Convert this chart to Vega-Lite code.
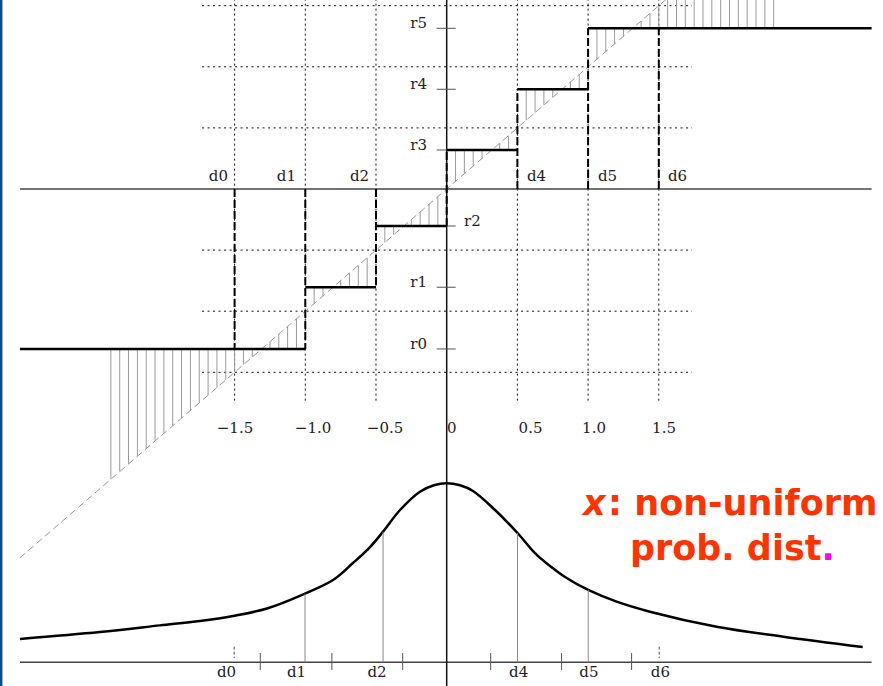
{
  "$schema": "https://vega.github.io/schema/vega-lite/v6.json",
  "width": 883,
  "height": 686,
  "padding": 0,
  "autosize": {"type": "fit", "contains": "padding"},
  "background": "white",
  "config": {"view": {"stroke": null}},
  "encoding": {
    "x": {"field": "x", "type": "quantitative", "scale": {"domain": [-3.1591, 3.0856], "nice": false, "zero": false}, "axis": null},
    "y": {"field": "y", "type": "quantitative", "scale": {"domain": [-4.0671, 1.5466], "nice": false, "zero": false}, "axis": null}
  },
  "layer": [
    {
      "data": {"values": [{"x": -3.3, "x2": -3.142, "y": -4.3, "y2": 1.7}]},
      "mark": {"type": "rect", "color": "#0d4a96", "clip": true},
      "encoding": {"x2": {"field": "x2"}, "y2": {"field": "y2"}}
    },
    {
      "data": {"values": [
        {"x": -1.5, "y": -1.732, "y2": 1.7},
        {"x": -1.0, "y": -1.732, "y2": 1.7},
        {"x": -0.5, "y": -1.732, "y2": 1.7},
        {"x": 0.5, "y": -1.732, "y2": 1.7},
        {"x": 1.0, "y": -1.732, "y2": 1.7},
        {"x": 1.5, "y": -1.732, "y2": 1.7}
      ]},
      "mark": {"type": "rule", "color": "#111", "strokeWidth": 1, "strokeDash": [2, 3], "clip": true},
      "encoding": {"y2": {"field": "y2"}}
    },
    {
      "data": {"values": [
        {"y": -1.5, "x": -1.73, "x2": 1.735},
        {"y": -1.0, "x": -1.73, "x2": 1.735},
        {"y": -0.5, "x": -1.73, "x2": 1.735},
        {"y": 0.5, "x": -1.73, "x2": 1.735},
        {"y": 1.0, "x": -1.73, "x2": 1.735},
        {"y": 1.5, "x": -1.73, "x2": 1.735}
      ]},
      "mark": {"type": "rule", "color": "#111", "strokeWidth": 1, "strokeDash": [2, 3.5], "clip": true},
      "encoding": {"x2": {"field": "x2"}}
    },
    {
      "data": {"values": [
        {"x": -2.375, "y": -1.309}, {"x": -2.3125, "y": -1.309}, {"x": -2.25, "y": -1.309}, {"x": -2.1875, "y": -1.309},
        {"x": -2.125, "y": -1.309}, {"x": -2.0625, "y": -1.309}, {"x": -2.0, "y": -1.309}, {"x": -1.9375, "y": -1.309},
        {"x": -1.875, "y": -1.309}, {"x": -1.8125, "y": -1.309}, {"x": -1.75, "y": -1.309}, {"x": -1.6875, "y": -1.309},
        {"x": -1.625, "y": -1.309}, {"x": -1.5625, "y": -1.309}, {"x": -1.5, "y": -1.309}, {"x": -1.4375, "y": -1.309},
        {"x": -1.375, "y": -1.309}, {"x": -1.3125, "y": -1.309}, {"x": -1.25, "y": -1.309}, {"x": -1.1875, "y": -1.309},
        {"x": -1.125, "y": -1.309}, {"x": -1.0625, "y": -1.309},
        {"x": -0.9375, "y": -0.804}, {"x": -0.875, "y": -0.804}, {"x": -0.8125, "y": -0.804}, {"x": -0.75, "y": -0.804},
        {"x": -0.6875, "y": -0.804}, {"x": -0.625, "y": -0.804}, {"x": -0.5625, "y": -0.804},
        {"x": -0.4375, "y": -0.303}, {"x": -0.375, "y": -0.303}, {"x": -0.3125, "y": -0.303}, {"x": -0.25, "y": -0.303},
        {"x": -0.1875, "y": -0.303}, {"x": -0.125, "y": -0.303}, {"x": -0.0625, "y": -0.303},
        {"x": 0.0625, "y": 0.319}, {"x": 0.125, "y": 0.319}, {"x": 0.1875, "y": 0.319}, {"x": 0.25, "y": 0.319},
        {"x": 0.3125, "y": 0.319}, {"x": 0.375, "y": 0.319}, {"x": 0.4375, "y": 0.319},
        {"x": 0.5625, "y": 0.816}, {"x": 0.625, "y": 0.816}, {"x": 0.6875, "y": 0.816}, {"x": 0.75, "y": 0.816},
        {"x": 0.8125, "y": 0.816}, {"x": 0.875, "y": 0.816}, {"x": 0.9375, "y": 0.816},
        {"x": 1.0625, "y": 1.315}, {"x": 1.125, "y": 1.315}, {"x": 1.1875, "y": 1.315}, {"x": 1.25, "y": 1.315},
        {"x": 1.3125, "y": 1.315}, {"x": 1.375, "y": 1.315}, {"x": 1.4375, "y": 1.315}, {"x": 1.5, "y": 1.315},
        {"x": 1.5625, "y": 1.315}, {"x": 1.625, "y": 1.315}, {"x": 1.6875, "y": 1.315}, {"x": 1.75, "y": 1.315},
        {"x": 1.8125, "y": 1.315}, {"x": 1.875, "y": 1.315}, {"x": 1.9375, "y": 1.315}, {"x": 2.0, "y": 1.315},
        {"x": 2.0625, "y": 1.315}, {"x": 2.125, "y": 1.315}, {"x": 2.1875, "y": 1.315}, {"x": 2.25, "y": 1.315},
        {"x": 2.3125, "y": 1.315}
      ]},
      "mark": {"type": "rule", "color": "#9a9a9a", "strokeWidth": 1, "clip": true},
      "encoding": {"y2": {"field": "x"}}
    },
    {
      "data": {"values": [{"x": -3.018, "y": -3.018, "x2": 1.7, "y2": 1.7}]},
      "mark": {"type": "rule", "color": "#9a9a9a", "strokeWidth": 1, "strokeDash": [7, 4], "clip": true},
      "encoding": {"x2": {"field": "x2"}, "y2": {"field": "y2"}}
    },
    {
      "data": {"values": [
        {"x": -3.018, "x2": 3.005, "y": 0},
        {"x": -3.018, "x2": 3.005, "y": -3.873}
      ]},
      "mark": {"type": "rule", "color": "#444", "strokeWidth": 1.5, "clip": true},
      "encoding": {"x2": {"field": "x2"}}
    },
    {
      "data": {"values": [{"x": 0, "y": -4.3, "y2": 1.7}]},
      "mark": {"type": "rule", "color": "#111", "strokeWidth": 1.5, "clip": true},
      "encoding": {"y2": {"field": "y2"}}
    },
    {
      "data": {"values": [
        {"y": -1.309, "x": -0.0707, "x2": 0.0636},
        {"y": -0.804, "x": -0.0707, "x2": 0.0636},
        {"y": -0.303, "x": -0.0707, "x2": 0.0636},
        {"y": 0.319, "x": -0.0707, "x2": 0.0636},
        {"y": 0.816, "x": -0.0707, "x2": 0.0636},
        {"y": 1.315, "x": -0.0707, "x2": 0.0636}
      ]},
      "mark": {"type": "rule", "color": "#555", "strokeWidth": 1},
      "encoding": {"x2": {"field": "x2"}}
    },
    {
      "data": {"values": [
        {"y": -1.309, "x": -3.018, "x2": -1.0},
        {"y": -0.804, "x": -1.0, "x2": -0.5},
        {"y": -0.303, "x": -0.5, "x2": 0},
        {"y": 0.319, "x": 0, "x2": 0.5},
        {"y": 0.816, "x": 0.5, "x2": 1.0},
        {"y": 1.315, "x": 1.0, "x2": 3.005}
      ]},
      "mark": {"type": "rule", "color": "#000", "strokeWidth": 2.5, "clip": true},
      "encoding": {"x2": {"field": "x2"}}
    },
    {
      "data": {"values": [
        {"x": -1.5, "y": 0, "y2": -1.309},
        {"x": -1.0, "y": 0, "y2": -1.309},
        {"x": -0.5, "y": 0, "y2": -0.804},
        {"x": 0, "y": -0.303, "y2": 0.319},
        {"x": 0.5, "y": 0, "y2": 0.816},
        {"x": 1.0, "y": 0, "y2": 1.315},
        {"x": 1.5, "y": 0, "y2": 1.315}
      ]},
      "mark": {"type": "rule", "color": "#000", "strokeWidth": 2, "strokeDash": [8, 3]},
      "encoding": {"y2": {"field": "y2"}}
    },
    {
      "data": {"values": [
        {"x": -3.018, "y": -3.682}, {"x": -2.452, "y": -3.625}, {"x": -2.028, "y": -3.571},
        {"x": -1.745, "y": -3.535}, {"x": -1.511, "y": -3.494}, {"x": -1.271, "y": -3.433},
        {"x": -1.002, "y": -3.311}, {"x": -0.804, "y": -3.2}, {"x": -0.663, "y": -3.061},
        {"x": -0.542, "y": -2.93}, {"x": -0.45, "y": -2.804}, {"x": -0.33, "y": -2.627},
        {"x": -0.189, "y": -2.477}, {"x": -0.09, "y": -2.424}, {"x": 0, "y": -2.408},
        {"x": 0.094, "y": -2.424}, {"x": 0.186, "y": -2.471}, {"x": 0.342, "y": -2.627},
        {"x": 0.501, "y": -2.815}, {"x": 0.624, "y": -2.979}, {"x": 0.731, "y": -3.085},
        {"x": 0.837, "y": -3.175}, {"x": 1.001, "y": -3.281}, {"x": 1.202, "y": -3.377},
        {"x": 1.437, "y": -3.459}, {"x": 1.909, "y": -3.582}, {"x": 2.38, "y": -3.664},
        {"x": 2.942, "y": -3.748}
      ]},
      "mark": {"type": "line", "color": "#000", "strokeWidth": 2.5, "interpolate": "catmull-rom"}
    },
    {
      "data": {"values": [
        {"x": -1.002, "y": -3.311, "y2": -3.873},
        {"x": -0.45, "y": -2.804, "y2": -3.873},
        {"x": 0.501, "y": -2.815, "y2": -3.873},
        {"x": 1.001, "y": -3.281, "y2": -3.873}
      ]},
      "mark": {"type": "rule", "color": "#888", "strokeWidth": 1},
      "encoding": {"y2": {"field": "y2"}}
    },
    {
      "data": {"values": [
        {"x": -1.3184, "y": -3.797, "y2": -3.936},
        {"x": -0.8119, "y": -3.797, "y2": -3.936},
        {"x": -0.3112, "y": -3.797, "y2": -3.936},
        {"x": 0.3112, "y": -3.797, "y2": -3.936},
        {"x": 0.8126, "y": -3.797, "y2": -3.936},
        {"x": 1.3076, "y": -3.797, "y2": -3.936}
      ]},
      "mark": {"type": "rule", "color": "#555", "strokeWidth": 1},
      "encoding": {"y2": {"field": "y2"}}
    },
    {
      "data": {"values": [
        {"x": -1.503, "y": -3.745, "y2": -3.838},
        {"x": 1.503, "y": -3.745, "y2": -3.838}
      ]},
      "mark": {"type": "rule", "color": "#555", "strokeWidth": 1, "strokeDash": [3, 2]},
      "encoding": {"y2": {"field": "y2"}}
    },
    {
      "data": {"values": [
        {"x": -1.547, "y": 0.065, "t": "d0"},
        {"x": -1.066, "y": 0.065, "t": "d1"},
        {"x": -0.549, "y": 0.065, "t": "d2"},
        {"x": -0.139, "y": -1.309, "t": "r0"},
        {"x": -0.139, "y": -0.804, "t": "r1"},
        {"x": -0.139, "y": 0.319, "t": "r3"},
        {"x": -0.139, "y": 0.816, "t": "r4"},
        {"x": -0.139, "y": 1.315, "t": "r5"}
      ]},
      "mark": {"type": "text", "align": "right", "baseline": "alphabetic", "font": "DejaVu Serif", "fontSize": 15, "color": "#222"},
      "encoding": {"text": {"field": "t"}}
    },
    {
      "data": {"values": [
        {"x": 0.568, "y": 0.065, "t": "d4"},
        {"x": 1.07, "y": 0.065, "t": "d5"},
        {"x": 1.565, "y": 0.065, "t": "d6"},
        {"x": 0.1223, "y": -0.303, "t": "r2"}
      ]},
      "mark": {"type": "text", "align": "left", "baseline": "alphabetic", "font": "DejaVu Serif", "fontSize": 15, "color": "#222"},
      "encoding": {"text": {"field": "t"}}
    },
    {
      "data": {"values": [
        {"x": -1.497, "y": -1.997, "t": "−1.5"},
        {"x": -0.945, "y": -1.997, "t": "−1.0"},
        {"x": -0.436, "y": -1.997, "t": "−0.5"},
        {"x": 0.035, "y": -1.997, "t": "0"},
        {"x": 0.593, "y": -1.997, "t": "0.5"},
        {"x": 1.042, "y": -1.997, "t": "1.0"},
        {"x": 1.537, "y": -1.997, "t": "1.5"},
        {"x": -1.557, "y": -3.993, "t": "d0"},
        {"x": -1.062, "y": -3.993, "t": "d1"},
        {"x": -0.493, "y": -3.993, "t": "d2"},
        {"x": 0.509, "y": -3.993, "t": "d4"},
        {"x": 1.006, "y": -3.993, "t": "d5"},
        {"x": 1.511, "y": -3.993, "t": "d6"}
      ]},
      "mark": {"type": "text", "align": "center", "baseline": "alphabetic", "font": "DejaVu Serif", "fontSize": 15, "color": "#222"},
      "encoding": {"text": {"field": "t"}}
    },
    {
      "data": {"values": [{"x": 0.964, "y": -2.668, "t": "x"}]},
      "mark": {"type": "text", "align": "left", "baseline": "alphabetic", "font": "DejaVu Sans", "fontSize": 35, "fontWeight": "bold", "fontStyle": "italic", "color": "#ff3300"},
      "encoding": {"text": {"field": "t"}}
    },
    {
      "data": {"values": [
        {"x": 1.141, "y": -2.668, "t": ": non-uniform"},
        {"x": 1.296, "y": -3.036, "t": "prob. dist"}
      ]},
      "mark": {"type": "text", "align": "left", "baseline": "alphabetic", "font": "DejaVu Sans", "fontSize": 35, "fontWeight": "bold", "color": "#ff3300"},
      "encoding": {"text": {"field": "t"}}
    },
    {
      "data": {"values": [{"x": 2.651, "y": -3.036, "t": "."}]},
      "mark": {"type": "text", "align": "left", "baseline": "alphabetic", "font": "DejaVu Sans", "fontSize": 35, "fontWeight": "bold", "color": "#ff00ff"},
      "encoding": {"text": {"field": "t"}}
    }
  ]
}
